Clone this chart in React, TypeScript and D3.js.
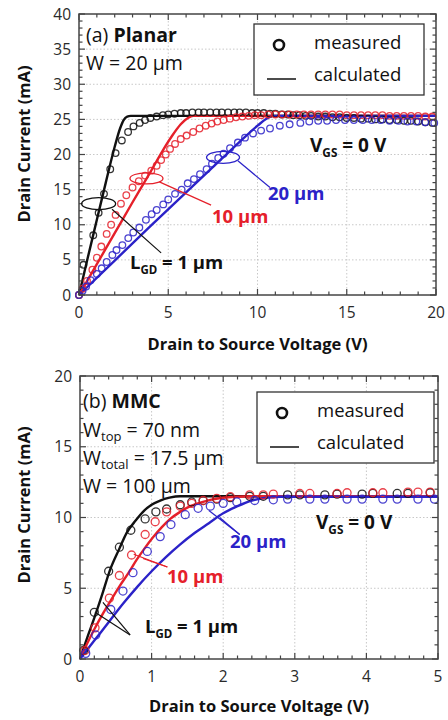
import React from 'react';
import * as d3 from 'd3';

type Pt = [number, number];

// ---- (a) planar, Vds (V) vs Id (mA)
const topXTicks = [0, 5, 10, 15, 20];
const topYTicks = [0, 5, 10, 15, 20, 25, 30, 35, 40];

const topBlackCalc: Pt[] = [[0, 0], [0.5, 5.4], [1, 10.7], [1.5, 16], [2, 21.1], [2.3, 23.7], [2.5, 24.9], [2.7, 25.4], [2.9, 25.5], [20, 25.5]];
const topRedCalc: Pt[] = [[0, 0], [1, 4.4], [2, 8.8], [3, 13.2], [4, 17.5], [4.7, 20.6], [5.2, 22.6], [5.7, 24.3], [6.1, 25.2], [6.4, 25.5], [20, 25.5]];
const topBlueCalc: Pt[] = [[0, 0], [2, 4.9], [4, 9.8], [6, 14.6], [8, 19.4], [9, 21.8], [10, 24.1], [10.5, 25.1], [10.9, 25.5], [20, 25.5]];

const topBlackMeas: Pt[] = [[0, 0], [0.25, 4.3], [0.8, 8.5], [1.1, 11.7], [1.4, 14.4], [1.75, 17.9], [2.05, 20.2], [2.4, 22.0], [2.75, 23.2], [3.05, 24.0], [3.4, 24.5], [3.7, 24.9], [4.0, 25.2], [4.35, 25.4], [4.7, 25.6], [5.0, 25.7], [5.35, 25.8], [5.7, 25.9], [6.0, 25.9], [6.35, 26.0], [6.7, 26.0], [7.0, 26.0], [7.35, 26.0], [7.7, 26.0], [8.0, 26.0], [8.35, 26.0], [8.7, 26.0], [9.0, 26.0], [9.35, 26.0], [9.7, 25.9], [10.0, 25.9], [10.35, 25.9], [10.7, 25.8], [11.0, 25.8], [11.35, 25.7], [11.7, 25.7], [12.0, 25.6], [12.35, 25.6], [12.7, 25.5], [13.0, 25.5], [13.4, 25.4], [13.8, 25.4], [14.2, 25.3], [14.6, 25.3], [15.0, 25.2], [15.4, 25.2], [15.8, 25.1], [16.2, 25.1], [16.6, 25.0], [17.0, 25.0], [17.4, 24.9], [17.8, 24.9], [18.2, 24.8], [18.6, 24.8], [19.0, 24.7], [19.4, 24.6], [19.8, 24.5]];
const topRedMeas: Pt[] = [[0, 0], [0.2, 0.9], [0.45, 2.0], [0.75, 3.6], [1.0, 5.3], [1.25, 6.9], [1.55, 8.7], [1.8, 10.0], [2.05, 11.4], [2.35, 13.0], [2.65, 14.2], [3.0, 15.3], [3.35, 16.2], [3.7, 17.0], [4.05, 17.7], [4.35, 18.4], [4.6, 19.2], [4.86, 20.0], [5.1, 20.8], [5.38, 21.5], [5.7, 22.2], [6.03, 22.7], [6.4, 23.2], [6.75, 23.7], [7.1, 24.1], [7.43, 24.4], [7.75, 24.7], [8.1, 24.9], [8.45, 25.1], [8.8, 25.3], [9.15, 25.4], [9.5, 25.5], [9.85, 25.6], [10.2, 25.6], [10.6, 25.7], [11.0, 25.7], [11.4, 25.7], [11.8, 25.7], [12.2, 25.7], [12.6, 25.7], [13.0, 25.7], [13.4, 25.7], [13.8, 25.7], [14.2, 25.7], [14.6, 25.7], [15.0, 25.6], [15.4, 25.6], [15.8, 25.6], [16.2, 25.6], [16.6, 25.6], [17.0, 25.6], [17.4, 25.5], [17.8, 25.5], [18.2, 25.5], [18.6, 25.5], [19.0, 25.5], [19.4, 25.4], [19.8, 25.4]];
const topBlueMeas: Pt[] = [[0, 0], [0.2, 0.6], [0.4, 1.2], [0.65, 2.1], [1.0, 3.0], [1.27, 3.8], [1.55, 4.7], [1.87, 5.7], [2.1, 6.4], [2.43, 7.1], [2.76, 8.1], [3.04, 8.9], [3.38, 9.6], [3.75, 10.7], [4.07, 11.5], [4.35, 12.1], [4.72, 12.9], [5.0, 13.6], [5.38, 14.4], [5.75, 15.0], [6.09, 15.9], [6.44, 16.5], [6.78, 17.2], [7.15, 17.9], [7.45, 18.7], [7.8, 19.5], [8.1, 20.1], [8.46, 20.9], [8.9, 21.7], [9.3, 22.4], [9.75, 23.0], [10.2, 23.4], [10.7, 23.7], [11.25, 24.1], [11.8, 24.3], [12.4, 24.5], [12.9, 24.7], [13.4, 24.8], [13.9, 24.8], [14.4, 24.9], [14.9, 24.9], [15.4, 24.9], [15.9, 24.9], [16.4, 24.9], [16.9, 24.9], [17.4, 24.8], [17.9, 24.8], [18.4, 24.7], [18.9, 24.7], [19.4, 24.6], [19.9, 24.5]];

// ---- (b) MMC
const botXTicks = [0, 1, 2, 3, 4, 5];
const botYTicks = [0, 5, 10, 15, 20];

const botBlackCalc: Pt[] = [[0, 0], [0.1, 1.5], [0.2, 2.9], [0.3, 4.4], [0.42, 6.3], [0.55, 7.8], [0.65, 8.9], [0.78, 9.8], [0.9, 10.5], [1.0, 10.9], [1.12, 11.2], [1.25, 11.4], [1.4, 11.5], [5, 11.5]];
const botRedCalc: Pt[] = [[0, 0], [0.1, 1.1], [0.2, 2.1], [0.33, 3.3], [0.45, 4.3], [0.56, 5.2], [0.68, 6.1], [0.79, 7.0], [0.9, 7.8], [1.02, 8.6], [1.14, 9.3], [1.26, 9.9], [1.4, 10.4], [1.54, 10.8], [1.68, 11.05], [1.82, 11.25], [2.0, 11.4], [2.2, 11.47], [2.4, 11.5], [5, 11.5]];
const botBlueCalc: Pt[] = [[0, 0], [0.2, 1.3], [0.4, 2.6], [0.6, 3.9], [0.8, 5.1], [1.0, 6.2], [1.2, 7.2], [1.4, 8.1], [1.6, 8.9], [1.8, 9.6], [2.0, 10.3], [2.2, 10.8], [2.4, 11.2], [2.6, 11.4], [2.8, 11.47], [5, 11.47]];

const botBlackMeas: Pt[] = [[0.05, 0.6], [0.2, 3.3], [0.4, 6.2], [0.55, 7.9], [0.71, 9.1], [0.91, 9.9], [1.06, 10.4], [1.21, 10.6], [1.4, 10.9], [1.56, 11.1], [1.72, 11.2], [1.91, 11.3], [2.1, 11.4], [2.37, 11.5], [2.56, 11.5], [2.9, 11.6], [3.07, 11.6], [3.42, 11.6], [3.59, 11.65], [3.94, 11.65], [4.09, 11.7], [4.43, 11.7], [4.58, 11.7], [4.89, 11.75]];
const botRedMeas: Pt[] = [[0.07, 0.6], [0.21, 2.2], [0.41, 4.3], [0.55, 5.9], [0.72, 7.35], [0.91, 8.8], [1.05, 9.7], [1.21, 10.4], [1.4, 10.8], [1.56, 11.0], [1.72, 11.2], [1.91, 11.35], [2.1, 11.47], [2.37, 11.6], [2.56, 11.6], [2.7, 11.65], [3.07, 11.7], [3.21, 11.7], [3.59, 11.7], [3.73, 11.75], [4.09, 11.75], [4.23, 11.75], [4.58, 11.8], [4.72, 11.8], [4.89, 11.8]];
const botBlueMeas: Pt[] = [[0.08, 0.4], [0.22, 1.7], [0.43, 3.5], [0.6, 4.8], [0.74, 6.1], [0.94, 7.6], [1.12, 8.65], [1.27, 9.5], [1.47, 10.2], [1.65, 10.65], [1.82, 10.8], [2.0, 11.0], [2.19, 11.1], [2.44, 11.2], [2.7, 11.25], [2.9, 11.3], [3.21, 11.3], [3.42, 11.3], [3.73, 11.3], [3.94, 11.3], [4.23, 11.3], [4.43, 11.3], [4.72, 11.3], [4.95, 11.3]];

const FONT = '"Open Sans", "Noto Sans", sans-serif';
const INK = '#111';
const RED = '#e5202a';
const BLUE = '#2b22c8';
const AXIS = '#444';

type Series = { calc: Pt[]; meas: Pt[]; color: string };

function Panel(props: {
  x: d3.ScaleLinear<number, number>;
  y: d3.ScaleLinear<number, number>;
  xTicks: number[];
  yTicks: number[];
  xMinor: number;
  yMinor: number;
  series: Series[];
  r: number;
  labelY: number;
  titleY: number;
  titleMid: number;
  children?: React.ReactNode;
}) {
  const { x, y, xTicks, yTicks, xMinor, yMinor, series, r } = props;
  const [l, rr] = x.range();
  const [b, t] = y.range();
  const line = d3.line<Pt>().x(d => x(d[0])).y(d => y(d[1])).curve(d3.curveMonotoneX);
  const xm = d3.range(x.domain()[0], x.domain()[1] + 1e-9, xMinor);
  const ym = d3.range(y.domain()[0], y.domain()[1] + 1e-9, yMinor);
  const big = 6, small = 3.5;
  return (
    <g>
      {/* dotted grid */}
      {xTicks.slice(1, -1).map(v => (
        <line key={'gx' + v} x1={x(v)} x2={x(v)} y1={t} y2={b} stroke="#c8c8c8" strokeDasharray="1.5 2" />
      ))}
      {yTicks.slice(1, -1).map(v => (
        <line key={'gy' + v} x1={l} x2={rr} y1={y(v)} y2={y(v)} stroke="#c8c8c8" strokeDasharray="1.5 2" />
      ))}
      {series.map((s, i) => (
        <path key={'c' + i} d={line(s.calc) || ''} fill="none" stroke={s.color} strokeWidth={2.4} />
      ))}
      {series.map((s, i) => (
        <g key={'m' + i}>
          {s.meas.map((d, j) => (
            <circle key={j} cx={x(d[0])} cy={y(d[1])} r={r} fill="none" stroke={s.color} strokeWidth={1.3} strokeOpacity={0.85} />
          ))}
        </g>
      ))}
      <rect x={l} y={t} width={rr - l} height={b - t} fill="none" stroke={AXIS} strokeWidth={1.5} />
      {xm.map((v, i) => {
        const major = xTicks.some(k => Math.abs(k - v) < 1e-6);
        const len = major ? big : small;
        return (
          <g key={'xt' + i} stroke={AXIS} strokeWidth={1.2}>
            <line x1={x(v)} x2={x(v)} y1={b} y2={b - len} />
            <line x1={x(v)} x2={x(v)} y1={t} y2={t + len} />
          </g>
        );
      })}
      {ym.map((v, i) => {
        const major = yTicks.some(k => Math.abs(k - v) < 1e-6);
        const len = major ? big : small;
        return (
          <g key={'yt' + i} stroke={AXIS} strokeWidth={1.2}>
            <line x1={l} x2={l + len} y1={y(v)} y2={y(v)} />
            <line x1={rr} x2={rr - len} y1={y(v)} y2={y(v)} />
          </g>
        );
      })}
      {xTicks.map(v => (
        <text key={'xl' + v} x={x(v)} y={b + 23} textAnchor="middle" fontSize={15.5} fill="#2a2a2a">{v}</text>
      ))}
      {yTicks.map(v => (
        <text key={'yl' + v} x={l - 8} y={y(v) + 5.5} textAnchor="end" fontSize={15.5} fill="#2a2a2a">{v}</text>
      ))}
      <text x={(l + rr) / 2} y={props.titleY} textAnchor="middle" fontSize={16.5} fontWeight="bold" fill={INK}>
        Drain to Source Voltage (V)
      </text>
      <text transform={`translate(${props.labelY},${props.titleMid}) rotate(-90)`} textAnchor="middle" fontSize={16.5} fontWeight="bold" fill={INK}>
        Drain Current (mA)
      </text>
      {props.children}
    </g>
  );
}

function Legend({ x0, y0, w, h }: { x0: number; y0: number; w: number; h: number }) {
  return (
    <g>
      <rect x={x0} y={y0} width={w} height={h} fill="#fff" stroke="#333" strokeWidth={1.3} />
      <circle cx={x0 + 25} cy={y0 + 21} r={5} fill="none" stroke={INK} strokeWidth={2.6} />
      <text x={x0 + 60} y={y0 + 25} fontSize={18.5} fill={INK}>measured</text>
      <line x1={x0 + 13} x2={x0 + 42} y1={y0 + 55} y2={y0 + 55} stroke={INK} strokeWidth={1.5} />
      <text x={x0 + 60} y={y0 + 57} fontSize={18.5} fill={INK}>calculated</text>
    </g>
  );
}

function Sub({ main, sub, x, y, size, color, rest }: { main: string; sub: string; x: number; y: number; size: number; color: string; rest: string }) {
  return (
    <text x={x} y={y} fontSize={size} fontWeight="bold" fill={color}>
      {main}
      <tspan fontSize={size * 0.62} dy={5}>{sub}</tspan>
      <tspan dy={-5}>{rest}</tspan>
    </text>
  );
}

export default function App() {
  const xa = d3.scaleLinear().domain([0, 20]).range([79, 436]);
  const ya = d3.scaleLinear().domain([0, 40]).range([295, 14]);
  const xb = d3.scaleLinear().domain([0, 5]).range([80, 438]);
  const yb = d3.scaleLinear().domain([0, 20]).range([659, 376]);

  const topSeries: Series[] = [
    { calc: topBlackCalc, meas: topBlackMeas, color: INK },
    { calc: topRedCalc, meas: topRedMeas, color: RED },
    { calc: topBlueCalc, meas: topBlueMeas, color: BLUE },
  ];
  const botSeries: Series[] = [
    { calc: botBlackCalc, meas: botBlackMeas, color: INK },
    { calc: botRedCalc, meas: botRedMeas, color: RED },
    { calc: botBlueCalc, meas: botBlueMeas, color: BLUE },
  ];

  return (
    <div style={{ position: 'absolute', left: 0, top: 0 }}>
      <svg width={448} height={720} style={{ display: 'block', fontFamily: FONT }}>
        <rect width={448} height={720} fill="#fff" />
        <Panel x={xa} y={ya} xTicks={topXTicks} yTicks={topYTicks} xMinor={1} yMinor={1} series={topSeries} r={3.3}
          labelY={30} titleY={350} titleMid={144}>
          <text x={86} y={42} fontSize={19.5} fill={INK}>(a) <tspan fontWeight="bold">Planar</tspan></text>
          <text x={86} y={70} fontSize={19.5} fill={INK}>W = 20 µm</text>
          <Legend x0={254} y0={24} w={170} h={71} />
          <Sub main="V" sub="GS" rest=" = 0 V" x={310} y={152} size={19} color={INK} />
          {/* L_GD markers */}
          <ellipse cx={xa(1.1)} cy={ya(13)} rx={17} ry={6} fill="none" stroke={INK} strokeWidth={1.3} />
          <line x1={xa(1.85)} x2={xa(4.6)} y1={ya(12.2)} y2={ya(6)} stroke={INK} strokeWidth={1.2} />
          <Sub main="L" sub="GD" rest=" = 1 µm" x={130} y={269} size={18.5} color={INK} />
          <ellipse cx={xa(3.78)} cy={ya(16.6)} rx={16.5} ry={5.5} fill="none" stroke={RED} strokeWidth={1.3} />
          <line x1={xa(4.5)} x2={xa(7.4)} y1={ya(16.1)} y2={ya(12.8)} stroke={RED} strokeWidth={1.2} />
          <text x={212} y={223} fontSize={18.5} fontWeight="bold" fill={RED}>10 µm</text>
          <ellipse cx={xa(8.07)} cy={ya(19.6)} rx={16.5} ry={6} fill="none" stroke={BLUE} strokeWidth={1.3} />
          <line x1={xa(8.9)} x2={xa(10.7)} y1={ya(19.1)} y2={ya(15.3)} stroke={BLUE} strokeWidth={1.2} />
          <text x={268} y={200} fontSize={18.5} fontWeight="bold" fill={BLUE}>20 µm</text>
        </Panel>
        <Panel x={xb} y={yb} xTicks={botXTicks} yTicks={botYTicks} xMinor={0.2} yMinor={1} series={botSeries} r={4}
          labelY={30} titleY={712} titleMid={505}>
          <text x={83} y={408} fontSize={19.5} fill={INK}>(b) <tspan fontWeight="bold">MMC</tspan></text>
          <text x={83} y={437} fontSize={19.5} fill={INK}>W<tspan fontSize={13} dy={4}>top</tspan><tspan dy={-4}> = 70 nm</tspan></text>
          <text x={83} y={465} fontSize={19.5} fill={INK}>W<tspan fontSize={13} dy={4}>total</tspan><tspan dy={-4}> = 17.5 µm</tspan></text>
          <text x={83} y={493} fontSize={19.5} fill={INK}>W = 100 µm</text>
          <Legend x0={257} y0={392} w={177} h={71} />
          <Sub main="V" sub="GS" rest=" = 0 V" x={316} y={529} size={19} color={INK} />
          <g stroke={INK} strokeWidth={1.2}>
            <line x1={xb(0.21)} y1={yb(3.3)} x2={xb(0.7)} y2={yb(1.7)} />
            <line x1={xb(0.32)} y1={yb(4.0)} x2={xb(0.7)} y2={yb(1.7)} />
          </g>
          <Sub main="L" sub="GD" rest=" = 1 µm" x={145} y={633} size={18.5} color={INK} />
          <g stroke={RED} strokeWidth={1.2}>
            <line x1={xb(0.75)} y1={yb(7.4)} x2={xb(1.22)} y2={yb(6.5)} />
            <line x1={xb(0.88)} y1={yb(7.1)} x2={xb(1.22)} y2={yb(6.5)} />
          </g>
          <text x={167} y={583} fontSize={18.5} fontWeight="bold" fill={RED}>10 µm</text>
          <g stroke={BLUE} strokeWidth={1.2}>
            <line x1={xb(1.8)} y1={yb(10.5)} x2={xb(2.23)} y2={yb(8.8)} />
            <line x1={xb(1.95)} y1={yb(10.0)} x2={xb(2.23)} y2={yb(8.8)} />
          </g>
          <text x={230} y={548} fontSize={18.5} fontWeight="bold" fill={BLUE}>20 µm</text>
        </Panel>
      </svg>
    </div>
  );
}
